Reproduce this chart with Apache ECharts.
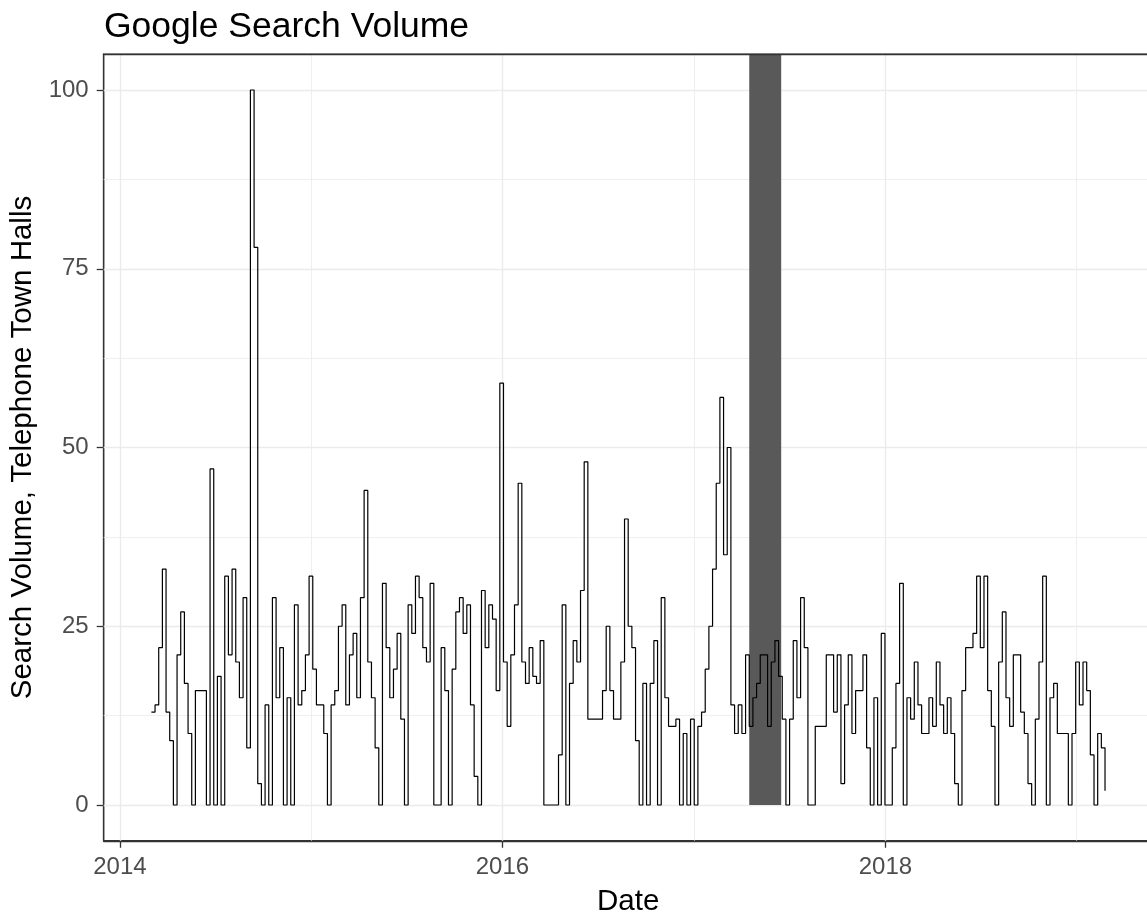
<!DOCTYPE html>
<html>
<head>
<meta charset="utf-8">
<script src="https://cdn.jsdelivr.net/npm/echarts@6/dist/echarts.min.js"></script>
<style>
html,body{margin:0;padding:0;background:#ffffff;}
#chart{width:1147px;height:920px;}
</style>
</head>
<body>
<div id="chart"></div>
<script>
// ---- data (weekly Google Trends index, weeks starting Sunday) ----
const firstWeek = [2014, 3, 2];   // first weekly observation: 2014-03-02
const vol2014 = [13,14,22,33,13,9,0,21,27,17,
                 10,0,16,16,16,0,47,0,18,0,
                 32,21,33,20,15,29,8,100,78,3,
                 0,14,0,29,15,22,0,15,0,28,
                 14,16,21,32];
const vol2015 = [19,14,14,10,0,14,16,25,28,14,
                 21,24,15,29,44,20,15,8,0,31,
                 22,15,19,24,12,0,28,24,32,29,
                 22,20,31,0,0,22,16,0,19,27,
                 29,24,28,14,4,0,30,22,28,26,
                 16,59];
const vol2016 = [20,11,21,28,45,20,17,22,18,17,
                 23,0,0,0,0,7,28,0,17,23,
                 20,30,48,12,12,12,12,16,25,16,
                 12,12,20,40,25,22,9,0,17,0,
                 17,23,0,29,15,11,11,12,0,10,
                 0,12];
const vol2017 = [0,11,13,19,25,33,45,57,35,50,
                 14,10,14,10,21,11,15,17,21,21,
                 11,20,23,18,12,0,12,23,15,29,
                 22,0,0,11,11,11,21,21,13,21,
                 3,14,21,10,16,16,21,8,0,15,
                 0,24,0];
const vol2018 = [0,8,17,31,0,15,12,20,14,10,
                 10,15,11,20,14,10,15,10,3,0,
                 16,22,22,24,32,22,32,16,11,0,
                 20,27,15,11,21,21,13,10,3,0,
                 12,20,32,0,15,17,10,10,10,0,
                 10,20];
const vol2019 = [14,20,16,7,0,10,8,2];

const yTicks = [0, 25, 50, 75, 100];
const yMinorGrid = [12.5, 37.5, 62.5, 87.5];
const xTickYears = [2014, 2016, 2018];
const xMinorYears = [2015, 2017, 2019];
const shadeStart = [2017, 4, 16];
const shadeEnd = [2017, 6, 16];
const xRange = [[2013, 12, 1], [2019, 5, 26]];
const yRange = [-5, 105];

// ---- build ----
const ms = (d) => Date.UTC(d[0], d[1] - 1, d[2]);
const DAY = 86400000;
const values = [].concat(vol2014, vol2015, vol2016, vol2017, vol2018, vol2019);
const start = ms(firstWeek);
const seriesData = values.map((v, i) => [start + i * 7 * DAY, v]);
const yearMs = (y) => Date.UTC(y, 0, 1);

const gridColor = '#EBEBEB';
const gridLines = []
  .concat(yTicks.map(v => ({yAxis: v, lineStyle: {width: 1.4, color: gridColor}})))
  .concat(yMinorGrid.map(v => ({yAxis: v, lineStyle: {width: 0.8, color: gridColor}})))
  .concat(xTickYears.map(y => ({xAxis: yearMs(y), lineStyle: {width: 1.4, color: gridColor}})))
  .concat(xMinorYears.map(y => ({xAxis: yearMs(y), lineStyle: {width: 0.8, color: gridColor}})));

const FONT = 'Liberation Sans, Arial, sans-serif';
const chart = echarts.init(document.getElementById('chart'), null, {renderer: 'canvas'});
chart.setOption({
  animation: false,
  backgroundColor: '#ffffff',
  title: {
    text: 'Google Search Volume',
    left: 99, top: 4,
    textStyle: {fontFamily: FONT, fontSize: 35.5, fontWeight: 'normal', color: '#000000'}
  },
  grid: {
    left: 103.7, top: 54.25, width: 1049, height: 786.5,
    outerBoundsMode: 'none',
    show: true, backgroundColor: '#ffffff', borderColor: '#333333', borderWidth: 1.3
  },
  xAxis: [{
    type: 'value', scale: true,
    min: ms(xRange[0]), max: ms(xRange[1]),
    axisLine: {show: true, onZero: false, lineStyle: {color: '#333333', width: 1.3}},
    axisTick: {show: true, length: 7, lineStyle: {color: '#333333', width: 1.3},
               customValues: xTickYears.map(yearMs)},
    axisLabel: {customValues: xTickYears.map(yearMs), color: '#4D4D4D', fontSize: 24,
                fontFamily: FONT, margin: 15,
                formatter: (v) => String(new Date(v).getUTCFullYear())},
    splitLine: {show: false},
    name: 'Date', nameLocation: 'middle', nameGap: 46,
    nameTextStyle: {fontFamily: FONT, fontSize: 29.5, color: '#000000'}
  }, {
    type: 'value', scale: true, position: 'top', z: 10,
    min: ms(xRange[0]), max: ms(xRange[1]),
    axisLine: {show: true, onZero: false, lineStyle: {color: '#333333', width: 1.3}},
    axisTick: {show: false}, axisLabel: {show: false}, splitLine: {show: false}
  }],
  yAxis: {
    type: 'value', min: yRange[0], max: yRange[1],
    axisLine: {show: true, onZero: false, lineStyle: {color: '#333333', width: 1.3}},
    axisTick: {show: true, length: 7, lineStyle: {color: '#333333', width: 1.3},
               customValues: yTicks},
    axisLabel: {customValues: yTicks, color: '#4D4D4D', fontSize: 24, fontFamily: FONT, margin: 15},
    splitLine: {show: false},
    name: 'Search Volume, Telephone Town Halls', nameLocation: 'middle', nameGap: 61, nameRotate: 90,
    nameTextStyle: {fontFamily: FONT, fontSize: 29.5, color: '#000000'}
  },
  series: [{
    name: 'grid', type: 'line', data: [], z: 1, silent: true,
    markLine: {
      z: 1, silent: true, symbol: ['none', 'none'], label: {show: false},
      lineStyle: {type: 'solid'}, animation: false,
      data: gridLines
    }
  }, {
    name: 'shade', type: 'line', data: [], z: 2, silent: true,
    markArea: {
      z: 2, silent: true, animation: false,
      itemStyle: {color: '#595959', opacity: 1},
      data: [[{xAxis: ms(shadeStart), yAxis: 0}, {xAxis: ms(shadeEnd), yAxis: yRange[1]}]]
    }
  }, {
    name: 'Search volume', type: 'line', z: 3,
    data: seriesData,
    step: 'end',
    showSymbol: false, symbol: 'none',
    lineStyle: {color: '#000000', width: 1.2},
    clip: true
  }]
});
</script>
</body>
</html>
